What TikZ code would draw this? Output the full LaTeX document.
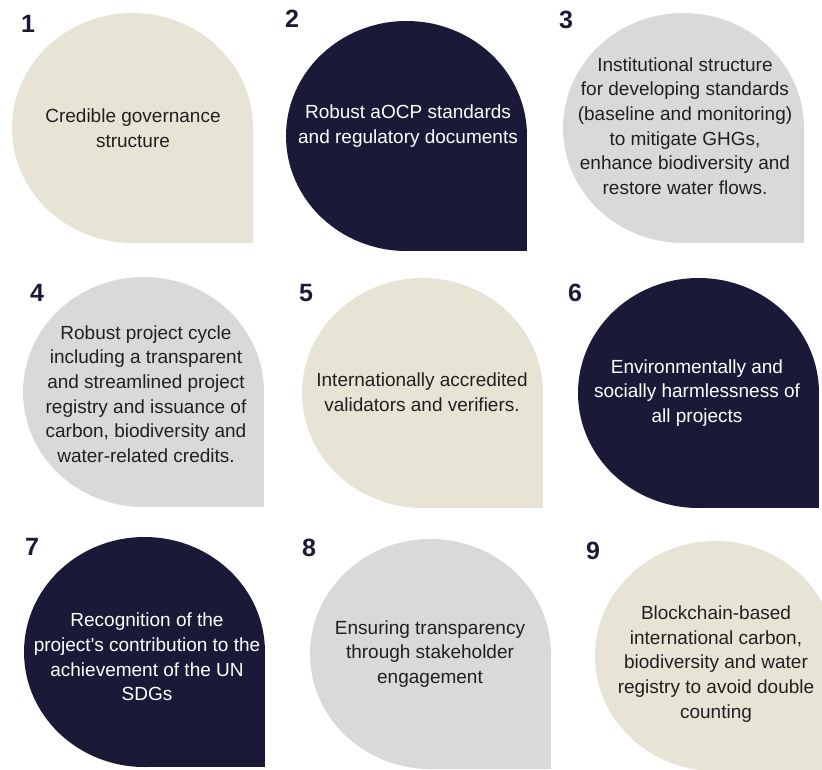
\documentclass[tikz,border=0pt]{standalone}
\usepackage{fontspec}
\setmainfont{Liberation Sans}

\definecolor{cream}{HTML}{E8E4D5}
\definecolor{navy}{HTML}{1A1A38}
\definecolor{stone}{HTML}{D9D9D9}
\definecolor{ink}{HTML}{202020}

\tikzset{
    number/.style={font=\fontsize{25}{25}\selectfont\bfseries, text=navy, inner sep=0pt},
    blurb/.style={align=center, font=\fontsize{19}{24.7}\selectfont, text=ink, inner sep=0pt},
    blurbw/.style={blurb, text=white}
}

\begin{document}
\begin{tikzpicture}[x=1pt, y=-1pt]

    \useasboundingbox (0,0) rectangle (822,769);
    \clip (0,0) rectangle (822,769);

    %% Row 1

    % Petal 1
    \fill[cream] (132.5,128) ellipse [x radius=120.5, y radius=115];
    \fill[cream] (132.5,128) rectangle (253,243);
    \node[number] (n1) at (28,24) {1};
    \node[blurb] (t1) at (133,128) {Credible governance\\structure};

    % Petal 2
    \fill[navy] (406.5,136) ellipse [x radius=120.5, y radius=115];
    \fill[navy] (406.5,136) rectangle (527,251);
    \node[number] (n2) at (292,19) {2};
    \node[blurbw] (t2) at (408,126) {Robust aOCP standards\\and regulatory documents};

    % Petal 3
    \fill[stone] (683.5,128) ellipse [x radius=120.5, y radius=115];
    \fill[stone] (683.5,128) rectangle (804,243);
    \node[number] (n3) at (566,20) {3};
    \node[blurb] (t3) at (685,126) {Institutional structure\\for developing standards\\(baseline and monitoring)\\to mitigate GHGs,\\enhance biodiversity and\\restore water flows.};

    %% Row 2

    % Petal 4
    \fill[stone] (143.5,392) ellipse [x radius=120.5, y radius=115];
    \fill[stone] (143.5,392) rectangle (264,507);
    \node[number] (n4) at (37,293) {4};
    \node[blurb] (t4) at (146,394) {Robust project cycle\\including a transparent\\and streamlined project\\registry and issuance of\\carbon, biodiversity and\\water-related credits.};

    % Petal 5
    \fill[cream] (422.5,393) ellipse [x radius=120.5, y radius=115];
    \fill[cream] (422.5,393) rectangle (543,508);
    \node[number] (n5) at (306,293) {5};
    \node[blurb] (t5) at (422,392) {Internationally accredited\\validators and verifiers.};

    % Petal 6
    \fill[navy] (698.5,393) ellipse [x radius=120.5, y radius=115];
    \fill[navy] (698.5,393) rectangle (819,508);
    \node[number] (n6) at (575,293) {6};
    \node[blurbw] (t6) at (697,393) {Environmentally and\\socially harmlessness of\\all projects};

    %% Row 3

    % Petal 7
    \fill[navy] (144.5,652) ellipse [x radius=120.5, y radius=115];
    \fill[navy] (144.5,652) rectangle (265,767);
    \node[number] (n7) at (32,547) {7};
    \node[blurbw] (t7) at (147,657) {Recognition of the\\project\textquotesingle s contribution to the\\achievement of the UN\\SDGs};

    % Petal 8
    \fill[stone] (430.5,654) ellipse [x radius=120.5, y radius=115];
    \fill[stone] (430.5,654) rectangle (551,769);
    \node[number] (n8) at (309,548) {8};
    \node[blurb] (t8) at (430,654) {Ensuring transparency\\through stakeholder\\engagement};

    % Petal 9
    \fill[cream] (715.5,656) ellipse [x radius=120.5, y radius=115];
    \fill[cream] (715.5,656) rectangle (836,771);
    \node[number] (n9) at (593,551) {9};
    \node[blurb] (t9) at (716,664) {Blockchain-based\\international carbon,\\biodiversity and water\\registry to avoid double\\counting};

\end{tikzpicture}
\end{document}
